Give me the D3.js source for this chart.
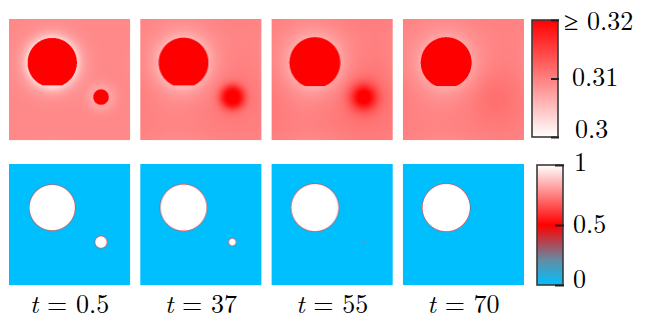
<!DOCTYPE html>
<html>
<head>
<meta charset="utf-8">
<script src="https://cdn.jsdelivr.net/npm/d3@7"></script>
<style>
  body { margin: 0; background: #fff; }
  svg { display: block; }
</style>
</head>
<body>
<script>
const width = 646, height = 320;
const font = '"Latin Modern Roman", "Liberation Serif", serif';

// snapshots
const timeLabels = ["0.5", "37", "55", "70"];

// particle geometry, as fractions of the (periodic) unit cell
const bigCenter = [0.357, 0.36];
const smallCenter = [0.76, 0.645];
const bigR = [0.19, 0.193, 0.197, 0.198];          // phase field radius
const bigRConc = [0.204, 0.206, 0.21, 0.21];       // radius of the >= 0.32 region
const smallR = [0.05, 0.031, 0.006, 0];
const smallRConc = [0.064, 0.044, 0, 0];

// concentration field around the particles
const bgConc = [0.3093, 0.3094, 0.3096, 0.3097];
const haloAmp = [-0.0065, -0.004, -0.0035, -0.003];
const haloLen = [0.05, 0.08, 0.1, 0.1];
const glowAmp = [-0.002, 0.009, 0.0105, 0.001];
const glowLen = [0.05, 0.045, 0.075, 0.16];
const spreadAmp = [0, 0.002, 0.0025, 0.0008];
const spreadLen = [0.2, 0.25, 0.3, 0.3];

// colour bars
const concTicks = [0.3, 0.31, 0.32];
const phaseTicks = [0, 0.5, 1];

const svg = d3.select("body").append("svg")
    .attr("width", width)
    .attr("height", height);

const x = d3.scaleBand()
    .domain(timeLabels)
    .range([9, 524])
    .paddingInner(0.078);
const size = x.bandwidth();
const n = Math.round(size);

const concColor = d3.scaleLinear()
    .domain([0.3, 0.32])
    .range(["#ffffff", "#ff0000"])
    .clamp(true);
const phaseColor = d3.scaleLinear()
    .domain([0, 0.2, 0.5, 1])
    .range(["#00bfff", "#5f8fa8", "#ff0000", "#ffffff"])
    .clamp(true);

function pdist(u, v, c) {
  let dx = Math.abs(u - c[0]); dx = Math.min(dx, 1 - dx);
  let dy = Math.abs(v - c[1]); dy = Math.min(dy, 1 - dy);
  return Math.hypot(dx, dy);
}

function concAt(i, u, v) {
  const db = pdist(u, v, bigCenter);
  const ds = pdist(u, v, smallCenter);
  if (db < bigRConc[i] && v - bigCenter[1] < 0.92 * bigRConc[i]) return 0.33;
  if (smallRConc[i] > 0 && ds < smallRConc[i]) return 0.33;
  let c = bgConc[i];
  c += haloAmp[i] * Math.exp(-Math.max(db - bigRConc[i], 0) / haloLen[i]);
  const dg = Math.max(ds - smallRConc[i], 0);
  c += glowAmp[i] * Math.exp(-(dg * dg) / (2 * glowLen[i] * glowLen[i]));
  c += spreadAmp[i] * Math.exp(-ds / spreadLen[i]);
  return c;
}

function phaseAt(i, u, v) {
  const w = 0.003;
  const db = pdist(u, v, bigCenter);
  const ds = pdist(u, v, smallCenter);
  const a = 0.5 * (1 - Math.tanh((db - bigR[i]) / w));
  const b = smallR[i] > 0 ? 0.5 * (1 - Math.tanh((ds - smallR[i]) / w)) : 0;
  return Math.max(a, b);
}

// rasterise a field, 3x3 supersampled
function raster(fn, color) {
  const canvas = document.createElement("canvas");
  canvas.width = n; canvas.height = n;
  const ctx = canvas.getContext("2d");
  const img = ctx.createImageData(n, n);
  const s = 3;
  for (let j = 0; j < n; j++) {
    for (let k = 0; k < n; k++) {
      let r = 0, g = 0, b = 0;
      for (let a = 0; a < s; a++) {
        for (let q = 0; q < s; q++) {
          const c = d3.rgb(color(fn((k + (q + 0.5) / s) / n, (j + (a + 0.5) / s) / n)));
          r += c.r; g += c.g; b += c.b;
        }
      }
      const p = 4 * (j * n + k);
      img.data[p] = r / (s * s); img.data[p + 1] = g / (s * s); img.data[p + 2] = b / (s * s); img.data[p + 3] = 255;
    }
  }
  ctx.putImageData(img, 0, 0);
  return canvas.toDataURL();
}

const rows = [
  {y: 19, fn: concAt, color: concColor},
  {y: 164, fn: phaseAt, color: phaseColor}
];

rows.forEach(row => {
  svg.append("g")
    .selectAll("image")
    .data(timeLabels)
    .join("image")
      .attr("x", d => x(d))
      .attr("y", row.y)
      .attr("width", size)
      .attr("height", size)
      .attr("preserveAspectRatio", "none")
      .attr("href", (d, i) => raster((u, v) => row.fn(i, u, v), row.color));
});

// time labels
svg.append("g")
  .selectAll("text")
  .data(timeLabels)
  .join("text")
    .attr("x", d => x(d) + size / 2)
    .attr("y", 313)
    .attr("text-anchor", "middle")
    .style("font-family", font)
    .style("font-size", "26px")
    .call(t => t.append("tspan").style("font-style", "italic").text("t"))
    .call(t => t.append("tspan").text(d => " = " + d));

// colour bars
const defs = svg.append("defs");
function gradient(id, color, domain) {
  const g = defs.append("linearGradient")
      .attr("id", id)
      .attr("x1", 0).attr("y1", 1).attr("x2", 0).attr("y2", 0);
  g.selectAll("stop")
    .data(d3.range(0, 1.0001, 0.05))
    .join("stop")
      .attr("offset", d => d)
      .attr("stop-color", d => color(domain[0] + d * (domain[1] - domain[0])));
}
gradient("gConc", concColor, [0.3, 0.32]);
gradient("gPhase", phaseColor, [0, 1]);

function colorBar(opts) {
  const y = d3.scaleLinear().domain(opts.domain).range([opts.y1, opts.y0]);
  svg.append("rect")
      .attr("x", opts.x)
      .attr("y", opts.y0)
      .attr("width", 26)
      .attr("height", opts.y1 - opts.y0)
      .attr("fill", `url(#${opts.id})`)
      .attr("stroke", "#3a3a3a")
      .attr("stroke-width", 1.6);
  const g = svg.append("g")
      .attr("transform", `translate(${opts.x + 26},0)`)
      .call(d3.axisRight(y)
          .tickValues(opts.ticks)
          .tickSize(-opts.tick)
          .tickFormat(opts.format));
  g.select(".domain").remove();
  g.selectAll(".tick line")
      .attr("stroke", "#222")
      .attr("stroke-width", 2)
      .attr("x2", -opts.tick)
      .attr("x1", 1);
  g.selectAll(".tick text")
      .attr("fill", "#000")
      .attr("text-anchor", "start")
      .attr("x", (d, i) => opts.dx[i])
      .attr("dy", (d, i) => opts.dy[i])
      .style("font-family", font)
      .style("font-size", "26px");
}

colorBar({
  id: "gConc", x: 532, y0: 20, y1: 137, domain: [0.3, 0.32],
  ticks: concTicks, tick: 7,
  format: d => d === 0.32 ? "≥ 0.32" : String(d),
  dx: [17, 14, 6], dy: ["0em", "0.25em", "0.35em"]
});
colorBar({
  id: "gPhase", x: 537, y0: 165, y1: 285, domain: [0, 1],
  ticks: phaseTicks, tick: 8,
  format: d => String(d),
  dx: [10, 10, 11], dy: ["0.08em", "0.3em", "0.2em"]
});
</script>
</body>
</html>
